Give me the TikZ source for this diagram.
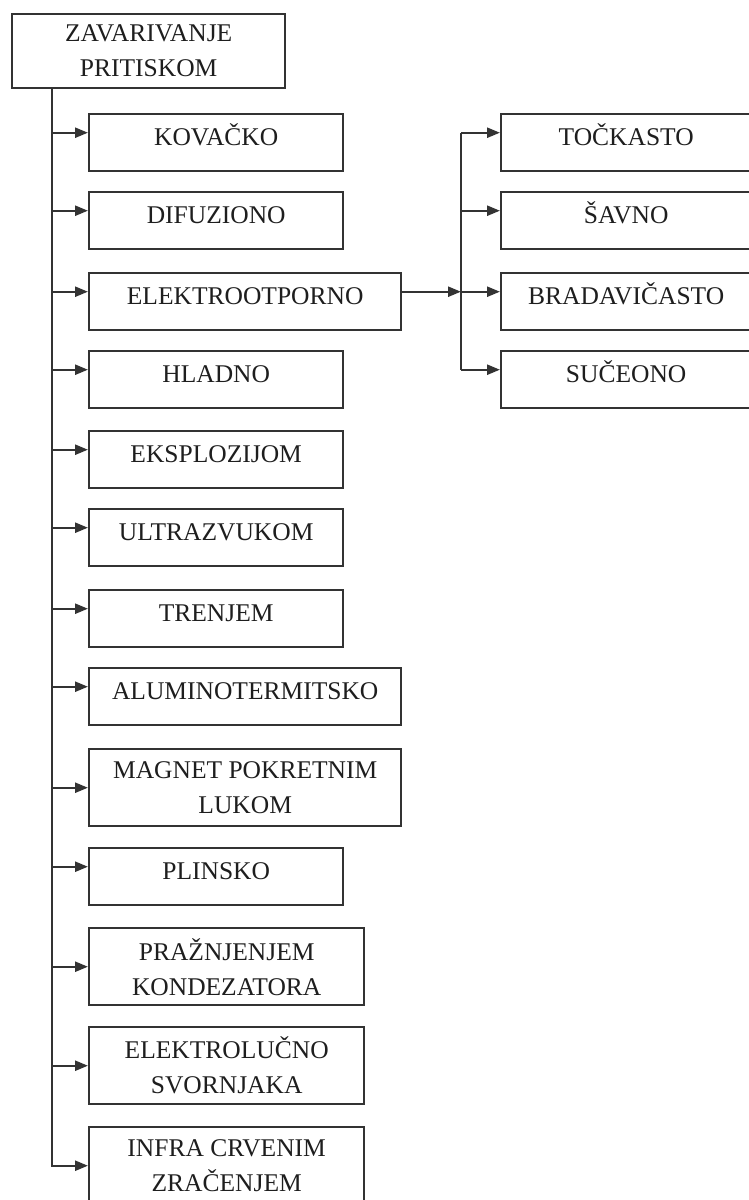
\documentclass[tikz,border=0pt]{standalone}
\usepackage{fontspec}
\setmainfont{Liberation Serif}
\usetikzlibrary{arrows.meta,positioning}
\definecolor{ink}{HTML}{1E1E1E}
\definecolor{frame}{HTML}{333333}
\tikzset{
  chart/.style={font=\fontsize{25.5}{35}\selectfont, text=ink, line width=2.4pt,
    >={Triangle[length=13pt,width=10pt]}},
  kind/.style={draw=frame,fill=white,line width=2.4pt,anchor=north west,
    align=center,inner sep=0pt,minimum height=57pt},
  single/.style={kind,text height=17pt,text depth=11pt},
  double/.style={kind,minimum height=77pt},
  feed/.style={->,draw=frame,line width=2.4pt},
  rail/.style={draw=frame,line width=2.4pt},
}
\begin{document}
\begin{tikzpicture}[chart,x=1pt,y=-1pt]
  % Page is 748 x 1200; boxes on the right and at the bottom run off it.
  \useasboundingbox (0,0) rectangle (748,1200);

  % ---------------- root ----------------
  \node[kind,minimum width=273pt,minimum height=74pt] (root) at (11,13)
    {ZAVARIVANJE\\PRITISKOM};
  \coordinate (trunk) at (52,0);

  % ---------------- kinds of pressure welding ----------------
  \node[single,minimum width=254pt] (kov) at (88,113)  {KOVAČKO};
  \node[single,minimum width=254pt] (dif) at (88,191)  {DIFUZIONO};
  \node[single,minimum width=312pt] (elo) at (88,272)  {ELEKTROOTPORNO};
  \node[single,minimum width=254pt] (hla) at (88,350)  {HLADNO};
  \node[single,minimum width=254pt] (eks) at (88,430)  {EKSPLOZIJOM};
  \node[single,minimum width=254pt] (ult) at (88,508)  {ULTRAZVUKOM};
  \node[single,minimum width=254pt] (tre) at (88,589)  {TRENJEM};
  \node[single,minimum width=312pt] (alu) at (88,667)  {ALUMINOTERMITSKO};
  \node[double,minimum width=312pt] (mag) at (88,748)  {MAGNET POKRETNIM\\LUKOM};
  \node[single,minimum width=254pt] (pli) at (88,847)  {PLINSKO};
  \node[double,minimum width=275pt] (pra) at (88,927)  {PRAŽNJENJEM\\KONDEZATORA};
  \node[double,minimum width=275pt] (svo) at (88,1026) {ELEKTROLUČNO\\SVORNJAKA};
  \node[double,minimum width=275pt] (inf) at (88,1126) {INFRA CRVENIM\\ZRAČENJEM};

  % Trunk ends in the last arrow; the others branch off it.
  \draw[feed] (root.south -| trunk) |- (inf.west);
  \foreach \k in {kov,dif,elo,hla,eks,ult,tre,alu,pli}
    \draw[feed] ([yshift=10pt]\k.west -| trunk) -- ([yshift=10pt]\k.west);
  \foreach \k in {mag,pra,svo}
    \draw[feed] (\k.west -| trunk) -- (\k.west);

  % ---------------- resistance welding ----------------
  \node[single,minimum width=250pt] (toc) at (500,113) {TOČKASTO};
  \node[single,minimum width=250pt] (sav) at (500,191) {ŠAVNO};
  \node[single,minimum width=250pt] (bra) at (500,272) {BRADAVIČASTO};
  \node[single,minimum width=250pt] (suc) at (500,350) {SUČEONO};
  \coordinate (fork) at (461,0);
  \draw[feed] ([yshift=10pt]elo.east) -- ([yshift=10pt]elo.east -| fork);
  \draw[rail] ([yshift=10pt]toc.west -| fork) -- ([yshift=10pt]suc.west -| fork);
  \foreach \r in {toc,sav,bra,suc}
    \draw[feed] ([yshift=10pt]\r.west -| fork) -- ([yshift=10pt]\r.west);
\end{tikzpicture}
\end{document}
